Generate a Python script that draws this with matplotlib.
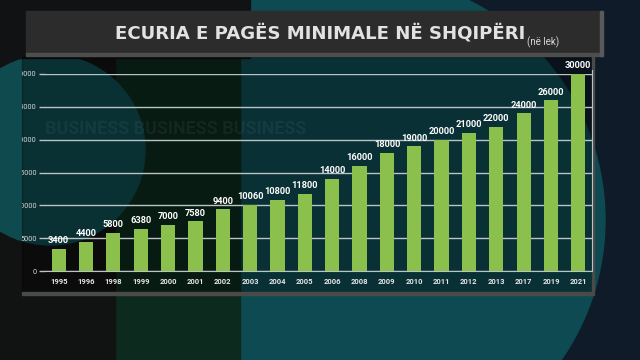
import matplotlib.pyplot as plt
from matplotlib.patches import Rectangle, Circle

# Paga minimale ne Shqiperi (ne lek)
vitet = ['1995', '1996', '1998', '1999', '2000', '2001', '2002', '2003', '2004', '2005',
         '2006', '2008', '2009', '2010', '2011', '2012', '2013', '2017', '2019', '2021']
paga = [3400, 4400, 5800, 6380, 7000, 7580, 9400, 10060, 10800, 11800,
        14000, 16000, 18000, 19000, 20000, 21000, 22000, 24000, 26000, 30000]
y_ticks = [0, 5000, 10000, 15000, 20000, 25000, 30000]

W, H = 640, 360
fig = plt.figure(figsize=(6.4, 3.6), dpi=100)
fig.patch.set_facecolor('#0f1b29')

def px(x0, y0, x1, y1):
    # rect in pixel coords (top-left origin) -> figure fraction
    return [x0 / W, 1 - y1 / H, (x1 - x0) / W, (y1 - y0) / H]

# sfondi
bg = fig.add_axes([0, 0, 1, 1])
bg.set_xlim(0, W)
bg.set_ylim(H, 0)
bg.axis('off')
bg.add_patch(Circle((360, 220), 245, color='#0e4a52', zorder=1))
bg.add_patch(Rectangle((115, 0), 125, 360, color='#0d2a1e', zorder=2))
bg.add_patch(Rectangle((0, 0), 115, 360, color='#111212', zorder=2))
bg.add_patch(Circle((50, 150), 95, color='#0f4a4f', zorder=3))
bg.add_patch(Rectangle((0, 0), 250, 58, color='#111213', zorder=3))
# paneli i grafikut
bg.add_patch(Rectangle((22, 57), 570, 235, color='black', alpha=0.35, zorder=4))
bg.add_patch(Rectangle((22, 292), 571, 3, color='#4a4a4a', zorder=5))
bg.add_patch(Rectangle((592, 57), 2, 238, color='#4a4a4a', zorder=5))
# banner titulli
bg.add_patch(Rectangle((26, 11), 576, 42, color='#2c2c2c', zorder=6))
bg.add_patch(Rectangle((26, 53), 576, 3, color='#4e4e4e', zorder=6))
bg.add_patch(Rectangle((600, 11), 3, 45, color='#5a5a5a', zorder=6))
bg.text(525, 33, 'ECURIA E PAGËS MINIMALE NË SHQIPËRI', ha='right', va='center',
        fontsize=13.1, fontweight='bold', family='DejaVu Sans', color='#e2e2e2', zorder=7)
bg.text(527, 42, '(në lek)', ha='left', va='center', fontsize=7,
        family='Roboto', color='#d8d8d8', zorder=7)
bg.text(45, 129, 'BUSINESS BUSINESS BUSINESS', fontsize=13,
        fontweight='bold', family='Roboto', color='white', alpha=0.05,
        va='center', zorder=4)

ax = fig.add_axes(px(45, 74, 592, 271))
ax.set_facecolor('none')
x = list(range(len(vitet)))
bars = ax.bar(x, paga, width=0.52, color='#8bc04c', zorder=3)
for b, v in zip(bars, paga):
    ax.text(b.get_x() + b.get_width() / 2, v + 550, str(v), ha='center', va='bottom',
            fontsize=6.7, fontweight='bold', color='white', family='Roboto', clip_on=False)

ax.set_xlim(-0.5, len(vitet) - 0.5)
ax.set_ylim(0, 30000)
ax.set_yticks(y_ticks)
ax.set_yticklabels([str(t) for t in y_ticks])
ax.set_xticks(x)
ax.set_xticklabels(vitet)
ax.grid(axis='y', color='#b9c4c4', linewidth=1.0, zorder=1)
ax.tick_params(axis='x', length=0, pad=5, labelsize=5.5, labelcolor='#e6e6e6')
ax.tick_params(axis='y', length=4, width=1, color='#b9c4c4', pad=2, labelsize=5.3,
               labelcolor='#d4d4d4')
for lbl in ax.get_xticklabels():
    lbl.set_fontweight('bold')
    lbl.set_family('Roboto')
clip = Rectangle((22 / W, 0), 1, 1, transform=fig.transFigure, facecolor='none')
for lbl in ax.get_yticklabels():
    lbl.set_family('Roboto')
    lbl.set_clip_path(clip)
for s in ['top', 'left']:
    ax.spines[s].set_visible(False)
ax.spines['bottom'].set_color('#b9c4c4')
ax.spines['right'].set_color('#b9c4c4')
ax.spines['right'].set_bounds(0, 30600)

fig.savefig('out.png', dpi=100, facecolor=fig.get_facecolor())
